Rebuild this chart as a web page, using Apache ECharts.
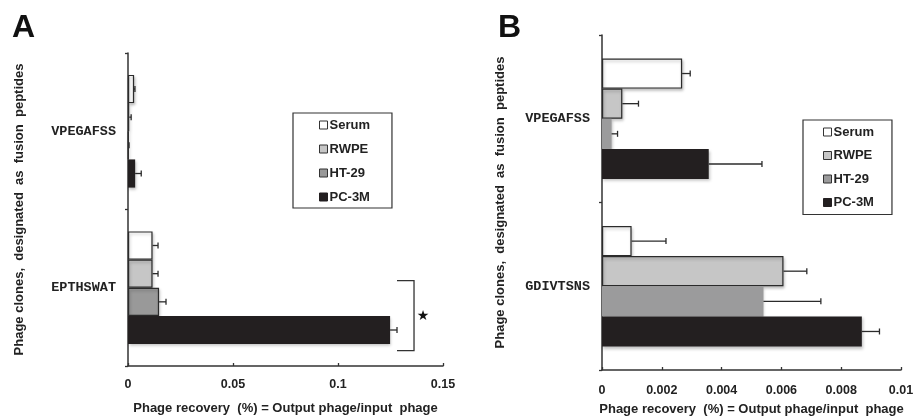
<!DOCTYPE html>
<html>
<head>
<meta charset="utf-8">
<script src="https://cdn.jsdelivr.net/npm/echarts@6/dist/echarts.min.js"></script>
<style>
  html, body { margin: 0; padding: 0; background: #fff; }
  #chart { width: 917px; height: 417px; }
</style>
</head>
<body>
<div id="chart"></div>
<script>
// panel A
const catsA = ["VPEGAFSS", "EPTHSWAT"];
const serumA = [0.0029, 0.0117];
const rwpeA = [0.0006, 0.0117];
const ht29A = [0.0003, 0.0148];
const pc3mA = [0.0034, 0.1248];
const serumAErr = [0.0004, 0.0026];
const rwpeAErr = [0.0009, 0.0026];
const ht29AErr = [0.0002, 0.0033];
const pc3mAErr = [0.0029, 0.0033];
const ticksA = [0, 0.05, 0.1, 0.15];
// bracket on EPTHSWAT: tip x, spine x, star x
const bracketA = [1, 0.1281, 0.1362, 0.1405];

// panel B
const catsB = ["VPEGAFSS", "GDIVTSNS"];
const serumB = [0.00268, 0.00099];
const rwpeB = [0.00068, 0.00607];
const ht29B = [0.00032, 0.0054];
const pc3mB = [0.00357, 0.00869];
const serumBErr = [0.00027, 0.00115];
const rwpeBErr = [0.00054, 0.00078];
const ht29BErr = [0.0002, 0.00192];
const pc3mBErr = [0.00178, 0.00059];
const ticksB = [0, 0.002, 0.004, 0.006, 0.008, 0.01];

const names = ["Serum", "RWPE", "HT-29", "PC-3M"];
const gapPct = 0.28;
const font = "Liberation Sans, Arial, sans-serif";
const ink = "#222";

const styles = [
  { color: "#ffffff", borderColor: "#2b2b2b", borderWidth: 1.2 },
  { color: "#c6c6c6", borderColor: "#2b2b2b", borderWidth: 1.2 },
  { color: "#999999", borderColor: "#2b2b2b", borderWidth: 1.2 },
  { color: "#231f20", borderColor: "#231f20", borderWidth: 0 }
];
const stylesB = styles.map((s, i) => i === 2 ? { color: "#9b9b9c", borderColor: "#9b9b9c", borderWidth: 0 } : s);

const shadow = {
  shadowColor: "rgba(0,0,0,0.25)",
  shadowBlur: 3,
  shadowOffsetX: 1,
  shadowOffsetY: 2
};

function barSeries(idx, values, st) {
  return names.map((n, k) => ({
    name: n,
    type: "bar",
    xAxisIndex: idx,
    yAxisIndex: idx,
    barGap: "0%",
    barCategoryGap: gapPct * 100 + "%",
    data: values[k],
    itemStyle: Object.assign({}, st[k], shadow),
    emphasis: { disabled: true },
    silent: true
  }));
}

function errorRows(values, errs) {
  let rows = [];
  values.forEach((arr, k) => {
    arr.forEach((v, c) => {
      rows.push([v, c, errs[k][c], k]);
    });
  });
  return rows;
}

function errorSeries(idx, rows) {
  return {
    type: "custom",
    xAxisIndex: idx,
    yAxisIndex: idx,
    z: 5,
    silent: true,
    data: rows,
    encode: { x: 0, y: 1 },
    renderItem(params, api) {
      const v = api.value(0);
      const c = api.value(1);
      const e = api.value(2);
      const k = api.value(3);
      const band = api.size([0, 1])[1];
      const bw = band * (1 - gapPct) / 4;
      const p0 = api.coord([v, c]);
      const p1 = api.coord([v + e, c]);
      const y = p0[1] + (k - 1.5) * bw;
      const st = { stroke: "#2b2b2b", lineWidth: 1.3 };
      return {
        type: "group",
        children: [
          { type: "line", shape: { x1: p0[0], y1: y, x2: p1[0], y2: y }, style: st },
          { type: "line", shape: { x1: p1[0], y1: y - 3, x2: p1[0], y2: y + 3 }, style: st }
        ]
      };
    }
  };
}

function legendData(st) {
  return names.map((n, k) => ({
    name: n,
    itemStyle: { color: st[k].color, borderColor: k === 3 ? st[k].color : "#333", borderWidth: 1, shadowBlur: 0, shadowOffsetX: 0, shadowOffsetY: 0 }
  }));
}

function axisPair(idx, cats, max, interval, nameGapY, nameGapX, labelMargin) {
  const x = {
    type: "value",
    gridIndex: idx,
    min: 0,
    max: max,
    interval: interval,
    name: "Phage recovery  (%) = Output phage/input  phage",
    nameLocation: "middle",
    nameGap: nameGapX,
    nameTextStyle: { fontFamily: font, fontWeight: "bold", fontSize: 13, color: ink },
    axisLine: { show: true, lineStyle: { color: "#333", width: 1.5 } },
    axisTick: { show: true, inside: true, length: 3, lineStyle: { color: "#333", width: 1.3 } },
    axisLabel: { margin: labelMargin, fontFamily: font, fontWeight: "bold", fontSize: 12.5, color: ink },
    splitLine: { show: false }
  };
  const y = {
    type: "category",
    gridIndex: idx,
    data: cats,
    inverse: true,
    name: "Phage clones,  designated  as  fusion  peptides",
    nameLocation: "middle",
    nameGap: nameGapY,
    nameTextStyle: { fontFamily: font, fontWeight: "bold", fontSize: 13, color: ink },
    axisLine: { show: true, lineStyle: { color: "#333", width: 1.5 } },
    axisTick: { show: true, length: 3, lineStyle: { color: "#333", width: 1.3 } },
    axisLabel: { margin: 12, fontFamily: "Liberation Mono, Courier New, monospace", fontWeight: "bold", fontSize: 13.5, color: ink }
  };
  return [x, y];
}

const [xA, yA] = axisPair(0, catsA, 0.15, 0.05, 102, 36, 12);
const [xB, yB] = axisPair(1, catsB, 0.01, 0.002, 95, 33, 14);

const option = {
  animation: false,
  backgroundColor: "#fff",
  grid: [
    { left: 128, top: 53, width: 315, height: 313, outerBoundsMode: "none" },
    { left: 602, top: 35, width: 299, height: 335, outerBoundsMode: "none" }
  ],
  xAxis: [xA, xB],
  yAxis: [yA, yB],
  legend: [
    {
      left: 293, top: 113, orient: "vertical",
      data: legendData(styles),
      selectedMode: false,
      icon: "rect", itemWidth: 8, itemHeight: 8, itemGap: 10,
      padding: [5, 22, 4, 26],
      borderColor: "#333", borderWidth: 1.2,
      textStyle: { fontFamily: font, fontWeight: "bold", fontSize: 13, color: ink, lineHeight: 14, padding: [0, 0, 0, -3] }
    },
    {
      left: 803, top: 120, orient: "vertical",
      data: legendData(stylesB),
      selectedMode: false,
      icon: "rect", itemWidth: 8, itemHeight: 8, itemGap: 9.5,
      padding: [5, 18, 5, 20],
      borderColor: "#333", borderWidth: 1.2,
      textStyle: { fontFamily: font, fontWeight: "bold", fontSize: 13, color: ink, lineHeight: 14, padding: [0, 0, 0, -3] }
    }
  ],
  graphic: [
    { type: "text", left: 12, top: 12, style: { text: "A", fontFamily: font, fontWeight: "bold", fontSize: 32, fill: "#111" } },
    { type: "text", left: 498, top: 12, style: { text: "B", fontFamily: font, fontWeight: "bold", fontSize: 32, fill: "#111" } }
  ],
  series: [
    ...barSeries(0, [serumA, rwpeA, ht29A, pc3mA], styles),
    ...barSeries(1, [serumB, rwpeB, ht29B, pc3mB], stylesB),
    errorSeries(0, errorRows([serumA, rwpeA, ht29A, pc3mA], [serumAErr, rwpeAErr, ht29AErr, pc3mAErr])),
    errorSeries(1, errorRows([serumB, rwpeB, ht29B, pc3mB], [serumBErr, rwpeBErr, ht29BErr, pc3mBErr])),
    {
      type: "custom",
      xAxisIndex: 0,
      yAxisIndex: 0,
      z: 6,
      silent: true,
      clip: false,
      data: [bracketA],
      encode: { x: 1, y: 0 },
      renderItem(params, api) {
        const c = api.value(0);
        const band = api.size([0, 1])[1];
        const bw = band * (1 - gapPct) / 4;
        const mid = api.coord([0, c])[1];
        const tip = api.coord([api.value(1), c])[0];
        const spine = api.coord([api.value(2), c])[0];
        const star = api.coord([api.value(3), c])[0];
        const top = mid - 0.25 * bw;
        const bot = mid + 2.23 * bw;
        return {
          type: "group",
          children: [
            {
              type: "polyline",
              shape: { points: [[tip, top], [spine, top], [spine, bot], [tip, bot]] },
              style: { stroke: "#333", lineWidth: 1.3, fill: null }
            },
            {
              type: "text",
              style: { x: star, y: mid + bw, text: "★", fontSize: 14, fill: "#111", align: "center", verticalAlign: "middle", fontFamily: "DejaVu Sans" }
            }
          ]
        };
      }
    }
  ]
};

const chart = echarts.init(document.getElementById("chart"));
chart.setOption(option);
</script>
</body>
</html>
